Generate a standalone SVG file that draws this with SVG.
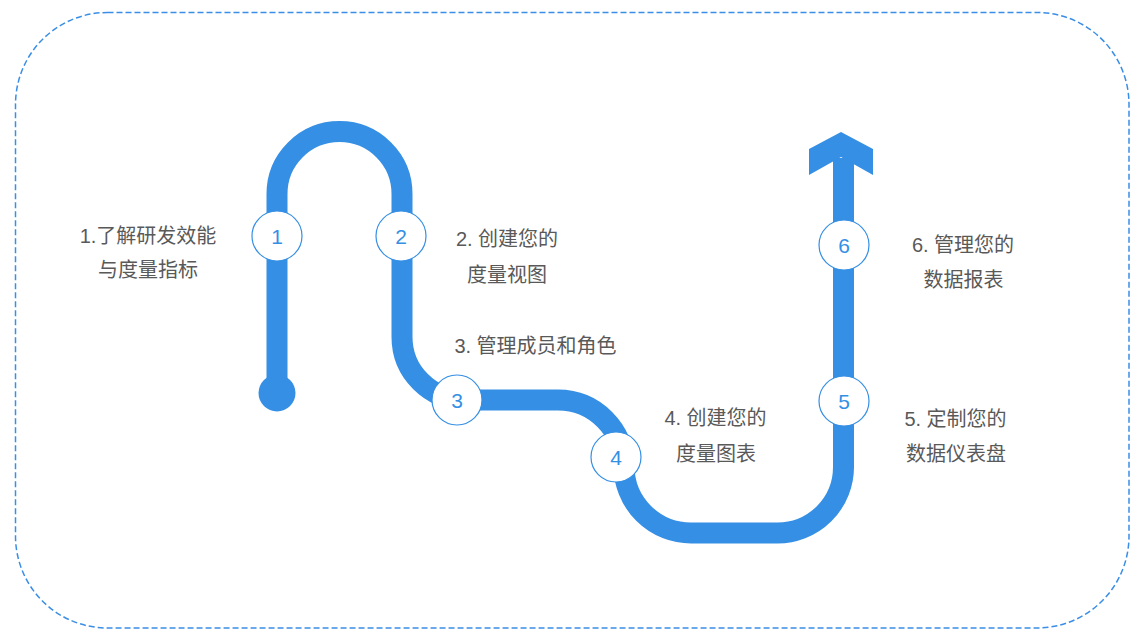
<svg xmlns="http://www.w3.org/2000/svg" width="1142" height="640" viewBox="0 0 1142 640">
<style>
.frame{fill:none;stroke:#3a8ee6;stroke-width:1.5;stroke-dasharray:6 3}
.road{fill:none;stroke:#358fe4;stroke-width:21}
.dot{fill:#358fe4}
.step circle{fill:#fff;stroke:#358fe4;stroke-width:1.2}
.num{font-family:"Liberation Sans",Arial,sans-serif;font-size:21px;fill:#358fe4;text-anchor:middle}
.lbl{font-family:"Liberation Sans","Noto Sans CJK SC",sans-serif;font-size:20px;fill:#595959;text-anchor:middle}
</style>
<rect class="frame" x="15.5" y="12.5" width="1113.5" height="615.5" rx="92" ry="92"/>
<g id="connectors">
<path class="road" d="M277 393 L277 194 A62.5 62.5 0 0 1 402 194 L402 337 A63 63 0 0 0 465 400 L558 400 A66 66 0 0 1 624 466 A67 67 0 0 0 691 533 L777 533 A66 66 0 0 0 843.5 467 L843.5 158"/>
<circle class="dot" cx="277" cy="393" r="18.5"/>
<polygon class="dot" points="809,149 841,132 873,149 873,175 841,157 809,175"/>
</g>
<g id="node1" class="step"><circle cx="277" cy="236" r="25"/><text class="num" x="277" y="243.5">1</text>
<text class="lbl" x="148" y="243">1.了解研发效能</text><text class="lbl" x="148" y="277">与度量指标</text></g>
<g id="node2" class="step"><circle cx="401" cy="236" r="25"/><text class="num" x="401" y="243.5">2</text>
<text class="lbl" x="507" y="246">2. 创建您的</text><text class="lbl" x="507" y="282">度量视图</text></g>
<g id="node3" class="step"><circle cx="457" cy="400" r="25"/><text class="num" x="457" y="407.5">3</text>
<text class="lbl" x="535.5" y="353">3. 管理成员和角色</text></g>
<g id="node4" class="step"><circle cx="616" cy="457" r="25"/><text class="num" x="616" y="464.5">4</text>
<text class="lbl" x="715.5" y="425">4. 创建您的</text><text class="lbl" x="716" y="461">度量图表</text></g>
<g id="node5" class="step"><circle cx="844" cy="401" r="25"/><text class="num" x="844" y="408.5">5</text>
<text class="lbl" x="955.5" y="426">5. 定制您的</text><text class="lbl" x="956" y="461">数据仪表盘</text></g>
<g id="node6" class="step"><circle cx="844" cy="245" r="25"/><text class="num" x="844" y="252.5">6</text>
<text class="lbl" x="963" y="252">6. 管理您的</text><text class="lbl" x="963.5" y="287">数据报表</text></g>
</svg>
